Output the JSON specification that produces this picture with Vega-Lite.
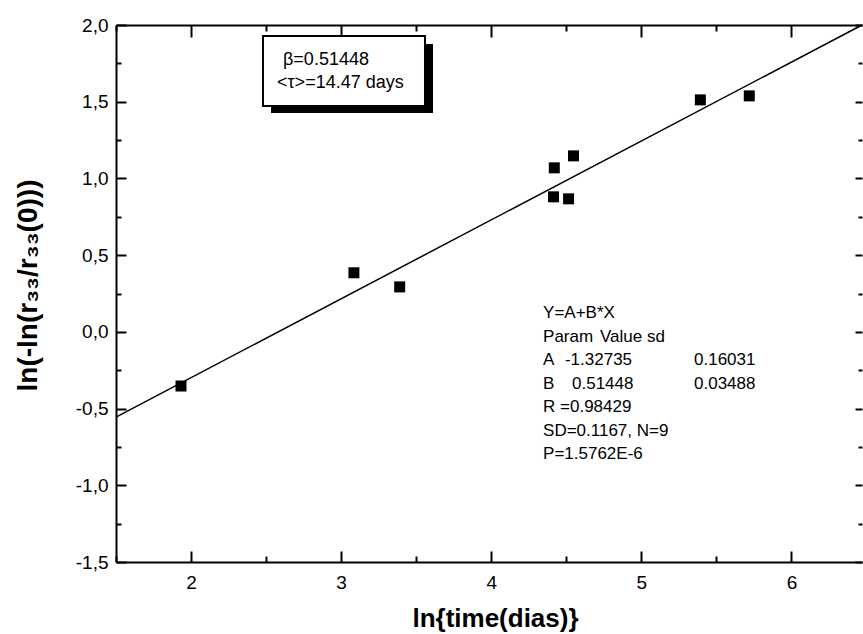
{
  "$schema": "https://vega.github.io/schema/vega-lite/v6.json",
  "width": 746,
  "height": 537,
  "autosize": {"type": "none"},
  "padding": {"left": 116, "top": 25, "right": 1, "bottom": 72},
  "background": "white",
  "config": {
    "view": {"stroke": null},
    "axis": {
      "domainColor": "black", "tickColor": "black", "labelColor": "black", "titleColor": "black",
      "domainWidth": 2, "tickWidth": 2, "grid": false,
      "labelFont": "Liberation Sans", "titleFont": "Liberation Sans",
      "labelOverlap": false, "labelFlush": false, "labelBound": false
    }
  },
  "datasets": {
    "points": [
      {"x": 1.933, "y": -0.353},
      {"x": 3.085, "y": 0.385},
      {"x": 3.39, "y": 0.293},
      {"x": 4.415, "y": 0.88},
      {"x": 4.42, "y": 1.069},
      {"x": 4.515, "y": 0.867},
      {"x": 4.548, "y": 1.147},
      {"x": 5.393, "y": 1.512},
      {"x": 5.719, "y": 1.538}
    ],
    "fit": [{"x": 1.5, "y": -0.5556}, {"x": 6.47, "y": 2.0}],
    "shadow": [{"x": 2.5326, "x2": 3.6119, "y": 1.8762, "y2": 1.4265}],
    "box": [{"x": 2.4793, "x2": 3.5586, "y": 1.9283, "y2": 1.4721}],
    "boxtext": [
      {"x": 2.6126, "y": 1.7393, "t": "β=0.51448"},
      {"x": 2.5726, "y": 1.5894, "t": "<τ>=14.47 days"}
    ],
    "stats": [
      {"x": 4.345, "y": 0.0871, "t": "Y=A+B*X"},
      {"x": 4.345, "y": -0.0661, "t": "Param"},
      {"x": 4.7245, "y": -0.0661, "t": "Value sd"},
      {"x": 4.345, "y": -0.2192, "t": "A"},
      {"x": 4.491, "y": -0.2192, "t": "-1.32735"},
      {"x": 5.351, "y": -0.2192, "t": "0.16031"},
      {"x": 4.345, "y": -0.3724, "t": "B"},
      {"x": 4.538, "y": -0.3724, "t": "0.51448"},
      {"x": 5.351, "y": -0.3724, "t": "0.03488"},
      {"x": 4.345, "y": -0.5256, "t": "R =0.98429"},
      {"x": 4.345, "y": -0.6787, "t": "SD=0.1167, N=9"},
      {"x": 4.345, "y": -0.8319, "t": "P=1.5762E-6"}
    ]
  },
  "layer": [
    {
      "data": {"name": "shadow"},
      "mark": {"type": "rect", "fill": "black"},
      "encoding": {
        "x": {"field": "x", "type": "quantitative", "scale": {"domain": [1.5, 6.47], "nice": false, "zero": false}, "axis": null},
        "x2": {"field": "x2"},
        "y": {"field": "y", "type": "quantitative", "scale": {"domain": [-1.5, 2.0], "nice": false, "zero": false}, "axis": null},
        "y2": {"field": "y2"}
      }
    },
    {
      "data": {"name": "box"},
      "mark": {"type": "rect", "fill": "white", "stroke": "black", "strokeWidth": 2},
      "encoding": {
        "x": {"field": "x", "type": "quantitative", "scale": {"domain": [1.5, 6.47], "nice": false, "zero": false}, "axis": null},
        "x2": {"field": "x2"},
        "y": {"field": "y", "type": "quantitative", "scale": {"domain": [-1.5, 2.0], "nice": false, "zero": false}, "axis": null},
        "y2": {"field": "y2"}
      }
    },
    {
      "data": {"name": "fit"},
      "mark": {"type": "line", "color": "black", "strokeWidth": 1.5},
      "encoding": {
        "x": {"field": "x", "type": "quantitative", "scale": {"domain": [1.5, 6.47], "nice": false, "zero": false},
          "axis": {"orient": "top", "labels": false, "title": null,
            "values": [1.5, 2, 2.5, 3, 3.5, 4, 4.5, 5, 5.5, 6],
            "tickSize": {"condition": {"test": "datum.value % 1 != 0", "value": -6}, "value": -12}}},
        "y": {"field": "y", "type": "quantitative", "scale": {"domain": [-1.5, 2.0], "nice": false, "zero": false},
          "axis": {"orient": "right", "labels": false, "title": null, "domain": false,
            "values": [-1.5, -1.25, -1, -0.75, -0.5, -0.25, 0, 0.25, 0.5, 0.75, 1, 1.25, 1.5, 1.75, 2],
            "tickSize": {"condition": {"test": "(datum.value*2) % 1 != 0", "value": -4}, "value": -7}}}
      }
    },
    {
      "data": {"name": "points"},
      "mark": {"type": "point", "shape": "square", "filled": true, "color": "black", "opacity": 1, "size": 121},
      "encoding": {
        "x": {"field": "x", "type": "quantitative", "scale": {"domain": [1.5, 6.47], "nice": false, "zero": false},
          "axis": {"orient": "bottom",
            "values": [1.5, 2, 2.5, 3, 3.5, 4, 4.5, 5, 5.5, 6],
            "tickSize": {"condition": {"test": "datum.value % 1 != 0", "value": -6}, "value": -11},
            "labelExpr": "datum.value % 1 != 0 ? '' : format(datum.value, 'd')",
            "labelFontSize": 19, "labelPadding": 22,
            "title": "ln{time(dias)}", "titleFontSize": 26, "titleFontWeight": "bold",
            "titleX": 379, "titleY": 64, "titleAlign": "center", "titleBaseline": "alphabetic"}},
        "y": {"field": "y", "type": "quantitative", "scale": {"domain": [-1.5, 2.0], "nice": false, "zero": false},
          "axis": {"orient": "left",
            "values": [-1.5, -1.25, -1, -0.75, -0.5, -0.25, 0, 0.25, 0.5, 0.75, 1, 1.25, 1.5, 1.75, 2],
            "tickSize": {"condition": {"test": "(datum.value*2) % 1 != 0", "value": -5}, "value": -10},
            "labelExpr": "(datum.value*2) % 1 != 0 ? '' : (datum.value < 0 ? '-' : '') + replace(format(abs(datum.value), '.1f'), '.', ',')",
            "labelFontSize": 19, "labelPadding": 18,
            "title": "ln(-ln(r₃₃/r₃₃(0)))", "titleFontSize": 28, "titleFontWeight": "bold",
            "titleX": -88, "titleY": 260, "titleAngle": -90, "titleAlign": "center", "titleBaseline": "middle"}}
      }
    },
    {
      "data": {"name": "boxtext"},
      "mark": {"type": "text", "align": "left", "baseline": "alphabetic", "font": "Liberation Sans", "fontSize": 18, "color": "black"},
      "encoding": {
        "x": {"field": "x", "type": "quantitative", "scale": {"domain": [1.5, 6.47], "nice": false, "zero": false}, "axis": null},
        "y": {"field": "y", "type": "quantitative", "scale": {"domain": [-1.5, 2.0], "nice": false, "zero": false}, "axis": null},
        "text": {"field": "t"}
      }
    },
    {
      "data": {"name": "stats"},
      "mark": {"type": "text", "align": "left", "baseline": "alphabetic", "font": "Liberation Sans", "fontSize": 17, "color": "black"},
      "encoding": {
        "x": {"field": "x", "type": "quantitative", "scale": {"domain": [1.5, 6.47], "nice": false, "zero": false}, "axis": null},
        "y": {"field": "y", "type": "quantitative", "scale": {"domain": [-1.5, 2.0], "nice": false, "zero": false}, "axis": null},
        "text": {"field": "t"}
      }
    }
  ],
  "resolve": {"axis": {"x": "independent", "y": "independent"}}
}
